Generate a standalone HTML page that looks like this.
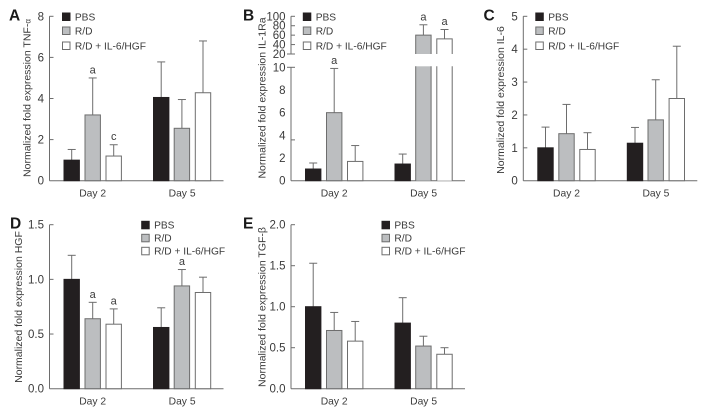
<!DOCTYPE html>
<html lang="en">
<head>
<meta charset="utf-8">
<title>Normalized fold expression panels</title>
<style>
html,body{margin:0;padding:0;background:#fff;}
body{width:708px;height:415px;overflow:hidden;}
svg{display:block;font-family:"Liberation Sans",sans-serif;fill:#3a3a3a;filter:blur(0.3px);}
</style>
</head>
<body>
<svg id="figure" width="708" height="415" viewBox="0 0 708 415" xmlns="http://www.w3.org/2000/svg"></svg>
<script>
const dayLabels = ["Day 2", "Day 5"];
const seriesNames = ["PBS", "R/D", "R/D + IL-6/HGF"];

const aMeans = [[1.0, 3.2, 1.2], [4.05, 2.55, 4.28]];
const aErrors = [[1.52, 5.0, 1.75], [5.78, 3.95, 6.8]];
const aNotes = [["", "a", "c"], ["", "", ""]];
const aTicks = ["0", "2", "4", "6", "8"];

const bMeans = [[1.03, 6.0, 1.7], [1.47, 60, 52]];
const bErrors = [[1.56, 9.9, 3.1], [2.35, 82, 72]];
const bNotes = [["", "a", ""], ["", "a", "a"]];
const bLowTicks = ["0", "2", "4", "6", "8", "10"];
const bHighTicks = ["20", "40", "60", "80", "100"];

const cMeans = [[1.0, 1.43, 0.95], [1.14, 1.85, 2.5]];
const cErrors = [[1.63, 2.32, 1.46], [1.62, 3.07, 4.09]];
const cNotes = [["", "", ""], ["", "", ""]];
const cTicks = ["0", "1", "2", "3", "4", "5"];

const dMeans = [[1.0, 0.64, 0.59], [0.56, 0.94, 0.88]];
const dErrors = [[1.22, 0.79, 0.73], [0.74, 1.09, 1.02]];
const dNotes = [["", "a", "a"], ["", "a", ""]];
const dTicks = ["0.0", "0.5", "1.0", "1.5"];

const eMeans = [[1.0, 0.71, 0.58], [0.8, 0.52, 0.42]];
const eErrors = [[1.53, 0.93, 0.82], [1.11, 0.64, 0.5]];
const eNotes = [["", "", ""], ["", "", ""]];
const eTicks = ["0.0", "0.5", "1.0", "1.5", "2.0"];

const NS = "http://www.w3.org/2000/svg";
const LINE = "#6d6d6d";
const FILLS = ["#231f20", "#bcbec0", "#ffffff"];
const BAR_OFFSETS = [[14.5, 35.5, 56.5], [104, 124.7, 145.8]];
const BAR_W = 15.4;
const figure = document.getElementById("figure");

function mk(tag, attrs, name, parent, text) {
  const e = document.createElementNS(NS, tag);
  for (const k in attrs) e.setAttribute(k, attrs[k]);
  
  
  if (text !== undefined) e.textContent = text;
  parent.appendChild(e);
  return e;
}
function line(x1, y1, x2, y2, name, parent, color) {
  return mk("line", {x1, y1, x2, y2, stroke: color || LINE, "stroke-width": 1}, name, parent);
}
function linearScale(min, max, y0, yTop) {
  return v => y0 - (v - min) / (max - min) * (y0 - yTop);
}
function drawBars(g, p, scale, breakInfo) {
  dayLabels.forEach((day, i) => {
    seriesNames.forEach((s, j) => {
      const x = p.axisX + BAR_OFFSETS[i][j];
      const mean = p.means[i][j], err = p.errors[i][j];
      const top = scale(mean), errTop = scale(err);
      const cx = x + BAR_W / 2;
      const tag = day.toLowerCase().replace(" ", "") + "-" + ["pbs", "rd", "combo"][j];
      line(cx, top, cx, errTop, "error-bar-" + tag, g);
      line(cx - 4, errTop, cx + 4, errTop, "error-cap-" + tag, g);
      if (breakInfo && mean > breakInfo.low) {
        const lowTop = scale(breakInfo.low) - 1, highBottom = scale(breakInfo.high);
        mk("rect", {x, y: lowTop, width: BAR_W, height: p.y0 - lowTop, fill: FILLS[j]}, "bar-lower-" + tag, g);
        mk("rect", {x, y: top, width: BAR_W, height: highBottom - top, fill: FILLS[j]}, "bar-upper-" + tag, g);
        mk("path", {d: `M${x} ${p.y0}V${lowTop}M${x + BAR_W} ${p.y0}V${lowTop}M${x} ${highBottom}V${top}H${x + BAR_W}V${highBottom}`, fill: "none", stroke: LINE, "stroke-width": 1}, "bar-outline-" + tag, g);
      } else {
        mk("rect", {x, y: top, width: BAR_W, height: p.y0 - top, fill: FILLS[j], stroke: j === 0 ? "#231f20" : LINE, "stroke-width": 1}, "bar-" + tag, g);
      }
      if (p.notes[i][j]) {
        mk("text", {x: cx, y: errTop - 4.5, "text-anchor": "middle", "font-size": 11}, "significance-" + tag, g, p.notes[i][j]);
      }
    });
    const c = p.axisX + (BAR_OFFSETS[i][0] + BAR_OFFSETS[i][2] + BAR_W) / 2;
    mk("text", {x: c, y: p.y0 + 16, "text-anchor": "middle", "font-size": 10.3}, "x-label-" + day.toLowerCase().replace(" ", "-"), g, day);
  });
}
function drawCommon(p) {
  const g = mk("g", {}, "panel-" + p.letter.toLowerCase(), figure);
  mk("text", {x: p.letterX, y: p.letterY, "font-size": 15.5, "font-weight": "bold", fill: "#1a1a1a"}, "panel-letter", g, p.letter);
  line(p.axisX, p.y0, p.axisX + 174, p.y0, "x-axis", g);
  const title = mk("text", {transform: `translate(${p.titleX},${p.titleY}) rotate(-90)`, "text-anchor": "middle", "font-size": 10.5}, "y-axis-title", g, p.title);
  if (p.greek) {
    const sp = document.createElementNS(NS, "tspan");
    
    
    sp.setAttribute("font-size", p.greekSize);
    sp.textContent = p.greek;
    title.appendChild(sp);
  }
  seriesNames.forEach((s, j) => {
    const y = p.legendYs[j];
    mk("rect", {x: p.swatchX, y: y - 3.7, width: 7.5, height: 7.5, fill: FILLS[j], stroke: j === 0 ? "#231f20" : LINE, "stroke-width": 1}, "legend-swatch-" + (j + 1), g);
    mk("text", {x: p.swatchX + 12.4, y: y + 3.7, "font-size": 10.2}, "legend-label-" + (j + 1), g, s);
  });
  return g;
}
function tickLabel(x, y, t, g) {
  mk("text", {x, y: y + 4, "text-anchor": "end", "font-size": 11.5}, "y-tick-label-" + t, g, t);
}
function drawPanel(p) {
  const g = drawCommon(p);
  const scale = linearScale(Number(p.ticks[0]), Number(p.ticks[p.ticks.length - 1]), p.y0, p.yTop);
  line(p.axisX, p.y0, p.axisX, p.yTop, "y-axis", g);
  p.ticks.forEach(t => {
    const y = scale(Number(t));
    tickLabel(p.axisX - 5.5, y, t, g);
    if (Number(t) !== Number(p.ticks[0])) line(p.axisX, y, p.axisX + 4, y, "y-tick-" + t, g);
  });
  drawBars(g, p, scale);
}
function drawBrokenPanel(p) {
  const g = drawCommon(p);
  const low = linearScale(0, 10, p.y0, 67.3);
  const high = linearScale(20, 100, 54, 16.3);
  const scale = v => v <= 10 ? low(v) : high(v);
  line(p.axisX, p.y0, p.axisX, low(10), "y-axis-lower", g);
  line(p.axisX, high(20), p.axisX, high(100), "y-axis-upper", g);
  bLowTicks.forEach(t => tickLabel(p.axisX - 5.5, low(Number(t)), t, g));
  bHighTicks.forEach(t => {
    tickLabel(p.axisX - 5.5, high(Number(t)), t, g);
    line(p.axisX, high(Number(t)), p.axisX + 4, high(Number(t)), "y-tick-" + t, g);
  });
  line(p.axisX - 4, high(20), p.axisX, high(20), "y-tick-break-upper", g);
  line(p.axisX - 4, low(10), p.axisX + 4, low(10), "y-tick-break-lower", g);
  line(p.axisX, low(3.6), p.axisX + 4, low(3.6), "y-tick-4", g);
  drawBars(g, p, scale, {low: 10, high: 20});
}
const topRow = [16.7, 30.7, 45.7];
const botRow = [225, 238, 251];
drawPanel({letter: "A", letterX: 9, letterY: 20.5, axisX: 49.5, y0: 180.7, yTop: 16.3, ticks: aTicks, means: aMeans, errors: aErrors, notes: aNotes, title: "Normalized fold expression TNF-", greek: "α", greekSize: 8, titleX: 30.5, titleY: 98, swatchX: 62.5, legendYs: topRow});
drawBrokenPanel({letter: "B", letterX: 243, letterY: 20.5, axisX: 291, y0: 180.7, yTop: 16.3, means: bMeans, errors: bErrors, notes: bNotes, title: "Normalized fold expression IL-1Ra", titleX: 265.5, titleY: 98, swatchX: 303.3, legendYs: topRow});
drawPanel({letter: "C", letterX: 483.5, letterY: 20.5, axisX: 523.3, y0: 180.7, yTop: 16.3, ticks: cTicks, means: cMeans, errors: cErrors, notes: cNotes, title: "Normalized fold expression IL-6", titleX: 504, titleY: 100, swatchX: 535.8, legendYs: topRow});
drawPanel({letter: "D", letterX: 10, letterY: 228.7, axisX: 49.5, y0: 388.7, yTop: 224.7, ticks: dTicks, means: dMeans, errors: dErrors, notes: dNotes, title: "Normalized fold expression HGF", titleX: 22, titleY: 307, swatchX: 141.7, legendYs: botRow});
drawPanel({letter: "E", letterX: 243, letterY: 228.7, axisX: 291, y0: 388.7, yTop: 224.7, ticks: eTicks, means: eMeans, errors: eErrors, notes: eNotes, title: "Normalized fold expression TGF-β", titleX: 265.5, titleY: 307, swatchX: 382, legendYs: botRow});
</script>
</body>
</html>
